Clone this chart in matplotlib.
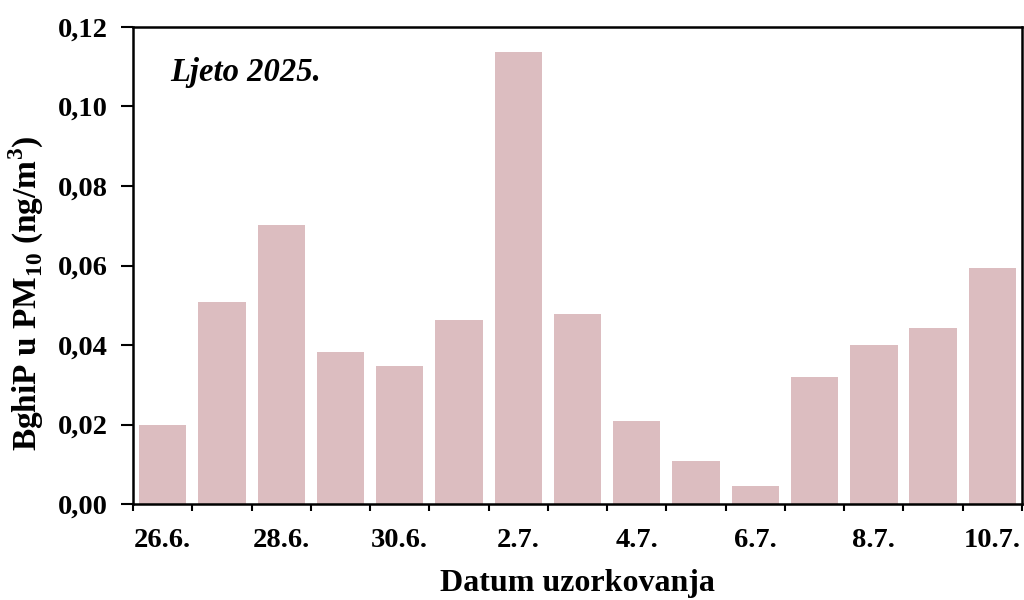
import numpy as np
import matplotlib
matplotlib.use('Agg')
import matplotlib.pyplot as plt

# Data
dates = ['26.6.', '27.6.', '28.6.', '29.6.', '30.6.', '1.7.', '2.7.', '3.7.',
         '4.7.', '5.7.', '6.7.', '7.7.', '8.7.', '9.7.', '10.7.']
values = [0.0198, 0.0507, 0.0702, 0.0382, 0.0347, 0.0463, 0.1137, 0.0478,
          0.0209, 0.0108, 0.0045, 0.0320, 0.0400, 0.0442, 0.0594]
yticks = [0.00, 0.02, 0.04, 0.06, 0.08, 0.10, 0.12]

plt.rcParams['font.family'] = ['Liberation Serif', 'DejaVu Serif']
plt.rcParams['mathtext.fontset'] = 'custom'
plt.rcParams['mathtext.rm'] = 'Liberation Serif'
plt.rcParams['mathtext.bf'] = 'Liberation Serif:bold'

fig = plt.figure(figsize=(10.24, 6), dpi=100)
ax = fig.add_axes([0.130, 0.160, 0.868, 0.795])

x = np.arange(len(dates))
ax.bar(x, values, width=0.8, color='#dcbdc0', edgecolor='none')

ax.set_xlim(-0.5, len(dates) - 0.5)
ax.set_ylim(0, 0.12)

# tick marks at category boundaries, labels every second date
ax.set_xticks(np.arange(-0.5, len(dates), 1.0))
ax.set_xticklabels([])
ax.set_xticks(x[::2], minor=True)
ax.set_xticklabels(dates[::2], minor=True)
ax.tick_params(axis='x', which='major', direction='out', length=5, width=1.5)
ax.tick_params(axis='x', which='minor', length=0, pad=17)

ax.set_yticks(yticks)
ax.set_yticklabels([('%.2f' % v).replace('.', ',') for v in yticks])
ax.tick_params(axis='y', direction='out', length=9, width=1.5, pad=9)

for lab in ax.get_xticklabels(minor=True) + ax.get_yticklabels():
    lab.set_fontsize(20.5)
    lab.set_fontweight('bold')

for sp in ax.spines.values():
    sp.set_linewidth(1.8)

ax.set_ylabel(r'BghiP u PM$_{\mathbf{10}}$ (ng/m$^{\mathbf{3}}$)',
              fontsize=24, fontweight='bold')
ax.yaxis.set_label_coords(-0.098, 0.442)
ax.set_xlabel('Datum uzorkovanja', fontsize=23, fontweight='bold', labelpad=12)

ax.text(0.042, 0.905, 'Ljeto 2025.', transform=ax.transAxes, fontsize=23.5,
        fontweight='bold', fontstyle='italic', ha='left', va='center')

fig.savefig('out.png', dpi=100)
